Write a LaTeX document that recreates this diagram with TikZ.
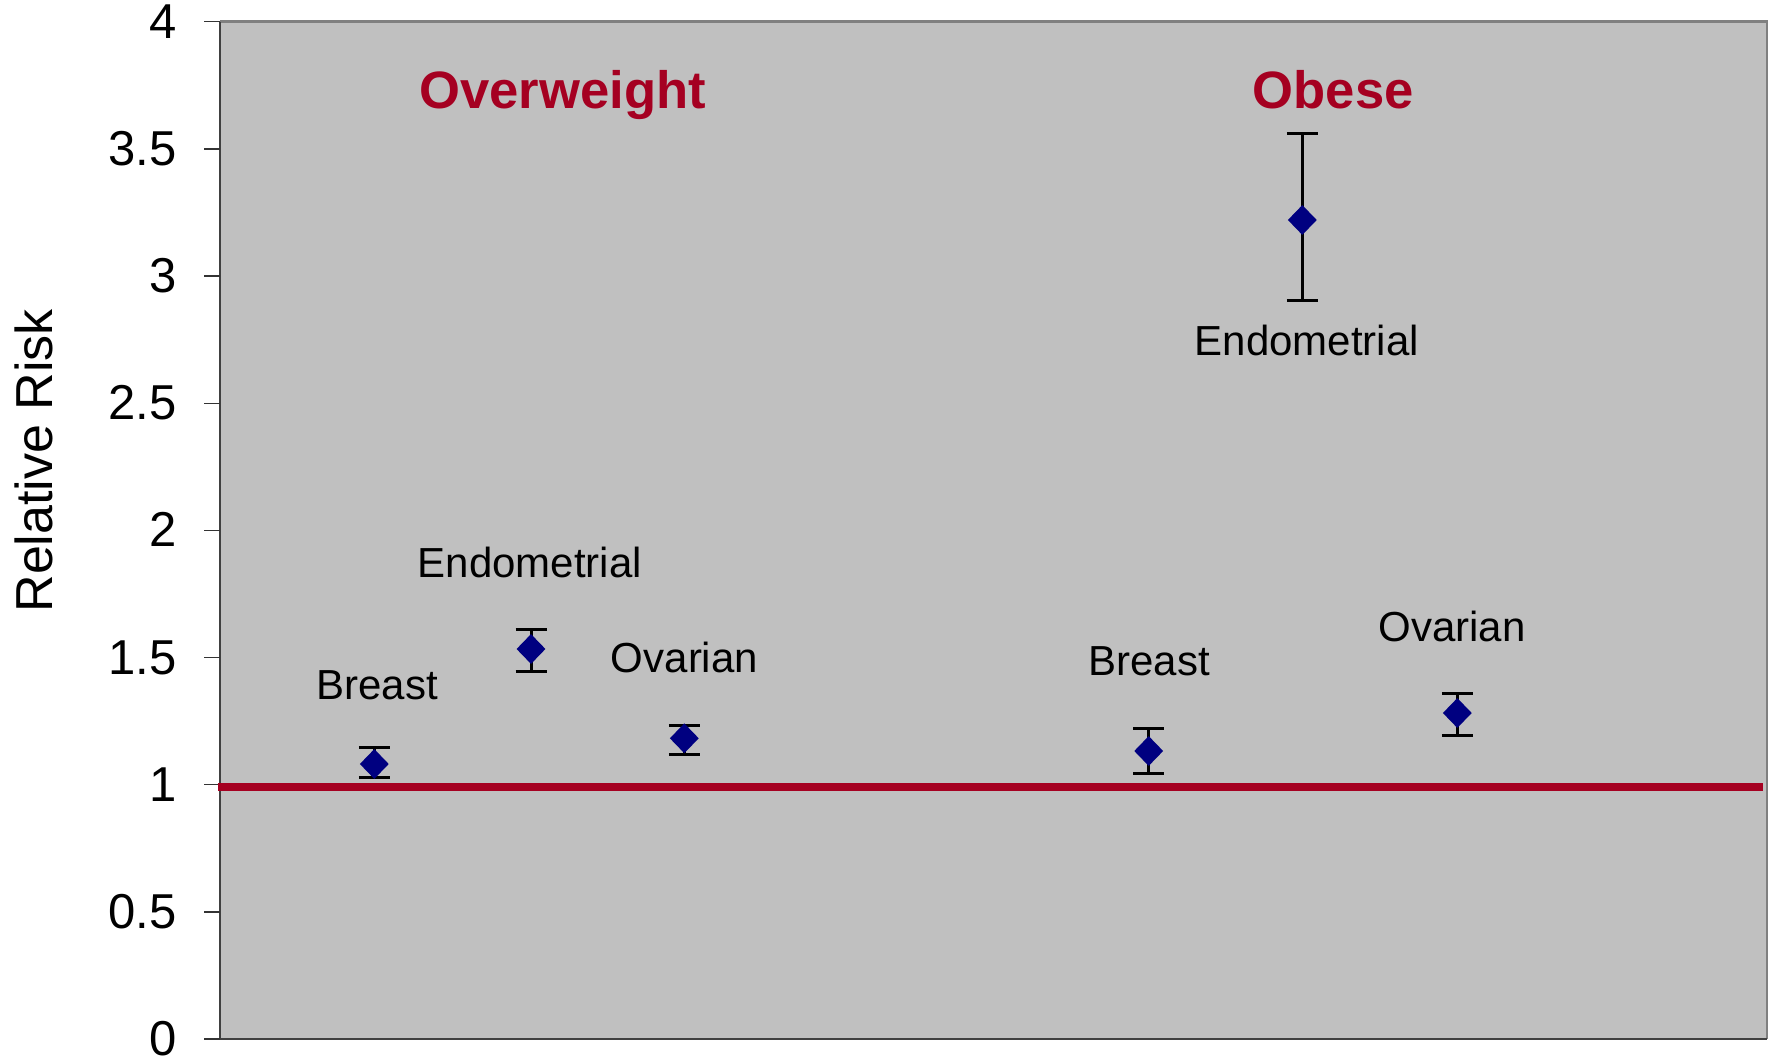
\documentclass[tikz,border=0pt]{standalone}
\usepackage{fontspec}
\setmainfont{Liberation Sans}
\usetikzlibrary{shapes.geometric}
\definecolor{plotgray}{RGB}{192,192,192}
\definecolor{framegray}{RGB}{128,128,128}
\definecolor{darkred}{RGB}{165,0,33}
\definecolor{navyblue}{RGB}{0,0,128}
\tikzset{
  ticklabel/.style={anchor=base east, inner sep=0pt, font=\fontsize{49}{49}\selectfont},
  catlabel/.style={anchor=base, inner sep=0pt, font=\fontsize{42}{42}\selectfont},
  grouptitle/.style={anchor=base, inner sep=0pt, text=darkred, font=\fontsize{52.6}{52.6}\selectfont\bfseries},
  marker/.style={shape=diamond, fill=navyblue, draw=none, inner sep=0pt, minimum width=29pt, minimum height=30pt},
  errbar/.style={line width=3pt, black},
}
\newcommand\rrpoint[5]{%
  \draw[errbar] (#2,#4) -- (#2,#5);
  \draw[errbar] (#2-15.5,#4) -- (#2+15.5,#4);
  \draw[errbar] (#2-15.5,#5) -- (#2+15.5,#5);
  \node[marker] (#1) at (#2,#3) {};
}
\begin{document}
\begin{tikzpicture}[x=1pt,y=-1pt]
\useasboundingbox (0,0) rectangle (1777,1059);
% plot area
\fill[plotgray] (220,21.7) rectangle (1767,1039);
\draw[framegray, line width=2.5pt] (220,21.7) -- (1767,21.7) -- (1767,1039);
\draw[black!75, line width=2pt] (220,21.7) -- (220,1039) -- (1767,1039);
% ticks and labels
\foreach \k/\lab in {0/0,1/0.5,2/1,3/1.5,4/2,5/2.5,6/3,7/3.5,8/4}{
  \draw[black!80, line width=1.3pt] (204,1039-127.15*\k) -- (220,1039-127.15*\k);
  \node[ticklabel] (t\k) at (176.7,1039-127.15*\k+16.5) {\lab};
}
% axis title
\node[rotate=90, anchor=base, inner sep=0pt, font=\fontsize{52}{52}\selectfont] (ytitle) at (52.3,460.8) {Relative Risk};
% reference line at 1
\draw[darkred, line width=8pt] (218,786.7) -- (1763,786.7);
% group titles
\node[grouptitle] (ow) at (562.7,108.3) {Overweight};
\node[grouptitle] (ob) at (1333.3,109) {Obese};
% data points: name, x, centre, top, bottom
\rrpoint{owb}{374.3}{764}{747.7}{777}
\rrpoint{owe}{531}{649}{629.3}{671}
\rrpoint{owo}{684.3}{738.3}{725.7}{754.3}
\rrpoint{obb}{1148.7}{751}{728.3}{773.7}
\rrpoint{obe}{1302.3}{220}{133.3}{300}
\rrpoint{obo}{1457.3}{713}{693.3}{735.3}
% category labels
\node[catlabel] (lowb) at (377,699.3) {Breast};
\node[catlabel] (lowe) at (529.7,577.3) {Endometrial};
\node[catlabel] (lowo) at (684.5,672.7) {Ovarian};
\node[catlabel] (lobb) at (1149.3,675) {Breast};
\node[catlabel] (lobo) at (1452,641) {Ovarian};
\node[catlabel] (lobe) at (1306.7,355) {Endometrial};
\end{tikzpicture}
\end{document}
